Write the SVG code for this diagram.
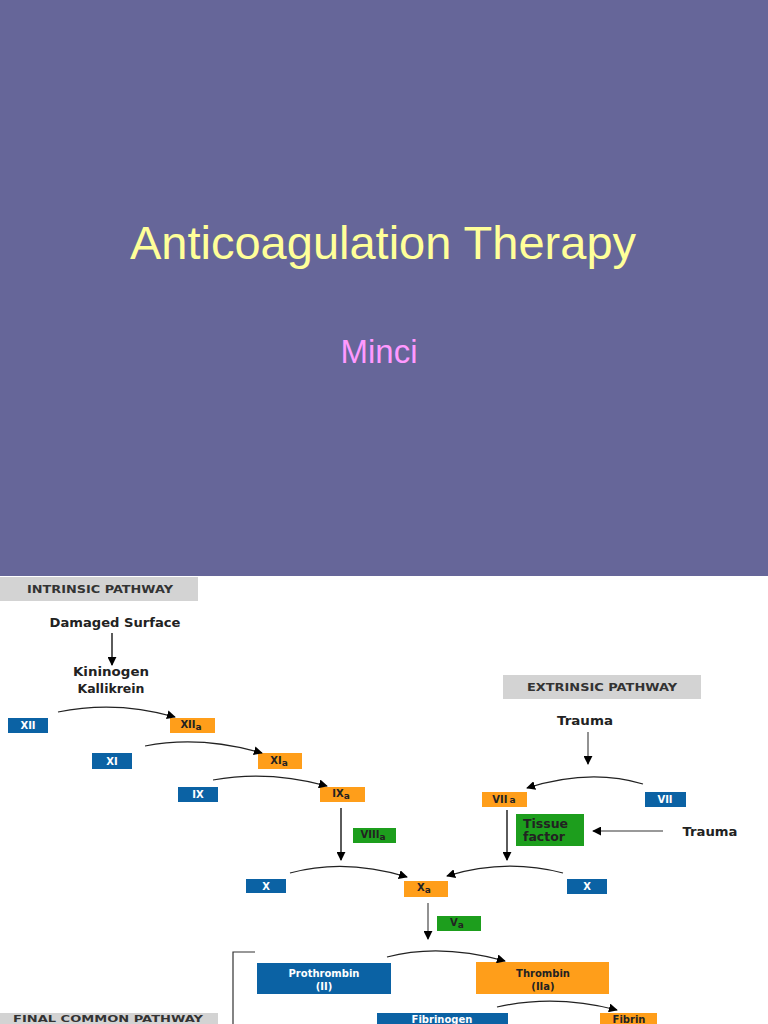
<svg xmlns="http://www.w3.org/2000/svg" width="768" height="1024" viewBox="0 0 768 1024">
<defs>
<marker id="ah" viewBox="0 0 10 10" refX="9" refY="5" markerWidth="9" markerHeight="9" markerUnits="userSpaceOnUse" orient="auto">
<path d="M0,0 L10,5 L0,10 Z" fill="#000"/>
</marker>
<style>
.lbl{font-family:"DejaVu Sans","Liberation Sans",sans-serif;font-weight:bold;text-anchor:middle}
.hdr{font-family:"DejaVu Sans","Liberation Sans",sans-serif;font-size:11px;font-weight:600;fill:#333;text-anchor:middle}
.txt{font-family:"DejaVu Sans","Liberation Sans",sans-serif;font-size:12px;font-weight:600;fill:#222;text-anchor:middle}
.blue{fill:#0b62a4}
.orng{fill:#ff9e1a}
.grn{fill:#1d9e1d}
.gray{fill:#d3d3d3}
.w{fill:#fff;font-size:10px}
.d{fill:#222;font-size:10px}
.arc{fill:none;stroke:#222;stroke-width:1.2;marker-end:url(#ah)}
.vline{fill:none;stroke:#333;stroke-width:1.6;marker-end:url(#ah)}
.gline{fill:none;stroke:#777;stroke-width:1.6;marker-end:url(#ah)}
</style>
</defs>
<rect x="0" y="0" width="768" height="576" fill="#666699"/>
<rect x="0" y="576" width="768" height="448" fill="#fff"/>
<g id="title">
<text x="383" y="259" font-family="Liberation Sans, Arial, sans-serif" font-size="47" fill="#ffff99" text-anchor="middle">Anticoagulation Therapy</text>
</g>
<g id="author">
<text x="379" y="363" font-family="Liberation Sans, Arial, sans-serif" font-size="33" fill="#ff99ff" text-anchor="middle">Minci</text>
</g>

<g id="intrinsic-header"><rect class="gray" x="0" y="577" width="198" height="24"/><text class="hdr" x="100" y="593" textLength="146" lengthAdjust="spacingAndGlyphs">INTRINSIC PATHWAY</text></g>
<g id="extrinsic-header"><rect class="gray" x="503" y="675" width="198" height="24"/><text class="hdr" x="602" y="691" textLength="150" lengthAdjust="spacingAndGlyphs">EXTRINSIC PATHWAY</text></g>
<g id="final-header"><rect class="gray" x="0" y="1013" width="218" height="14"/><text class="hdr" x="108" y="1022" font-size="9" textLength="190" lengthAdjust="spacingAndGlyphs" style="font-size:9px">FINAL COMMON PATHWAY</text></g>

<g id="damaged"><text class="txt" x="115" y="627" textLength="131" lengthAdjust="spacingAndGlyphs">Damaged Surface</text></g>
<g id="kininogen"><text class="txt" x="111" y="676" textLength="76" lengthAdjust="spacingAndGlyphs">Kininogen</text><text class="txt" x="111" y="693" textLength="67" lengthAdjust="spacingAndGlyphs">Kallikrein</text></g>
<g id="trauma1"><text class="txt" x="585" y="725" textLength="56" lengthAdjust="spacingAndGlyphs">Trauma</text></g>
<g id="trauma2"><text class="txt" x="710" y="836" textLength="55" lengthAdjust="spacingAndGlyphs">Trauma</text></g>

<g id="XII"><rect class="blue" x="8" y="718" width="40" height="15"/><text class="lbl w" x="28" y="729">XII</text></g>
<g id="XIIa"><rect class="orng" x="170" y="718" width="45" height="15"/><text class="lbl d" x="191" y="728">XII<tspan dy="2" font-size="9">a</tspan></text></g>
<g id="XI"><rect class="blue" x="92" y="753" width="40" height="16"/><text class="lbl w" x="112" y="765">XI</text></g>
<g id="XIa"><rect class="orng" x="258" y="753" width="44" height="16"/><text class="lbl d" x="279" y="764">XI<tspan dy="2" font-size="9">a</tspan></text></g>
<g id="IX"><rect class="blue" x="178" y="787" width="40" height="15"/><text class="lbl w" x="198" y="798">IX</text></g>
<g id="IXa"><rect class="orng" x="320" y="787" width="45" height="15"/><text class="lbl d" x="341" y="797">IX<tspan dy="2" font-size="9">a</tspan></text></g>
<g id="VIIIa"><rect class="grn" x="353" y="828" width="43" height="15"/><text class="lbl d" x="373" y="838">VIII<tspan dy="2" font-size="9">a</tspan></text></g>
<g id="X-left"><rect class="blue" x="246" y="879" width="40" height="14"/><text class="lbl w" x="266" y="890">X</text></g>
<g id="Xa"><rect class="orng" x="404" y="881" width="44" height="16"/><text class="lbl d" x="424" y="891">X<tspan dy="2" font-size="9">a</tspan></text></g>
<g id="X-right"><rect class="blue" x="567" y="879" width="40" height="15"/><text class="lbl w" x="587" y="890">X</text></g>
<g id="VIIa"><rect class="orng" x="482" y="792" width="45" height="15"/><text class="lbl d" x="504" y="803">VII<tspan font-size="9" dx="2">a</tspan></text></g>
<g id="VII"><rect class="blue" x="645" y="792" width="41" height="15"/><text class="lbl w" x="665" y="803">VII</text></g>
<g id="tissue-factor"><rect class="grn" x="516" y="814" width="68" height="32"/><text class="lbl d" x="523" y="828" font-size="12.5" style="text-anchor:start;font-size:12.5px">Tissue</text><text class="lbl d" x="523" y="841" style="text-anchor:start;font-size:12.5px">factor</text></g>
<g id="Va"><rect class="grn" x="437" y="916" width="44" height="15"/><text class="lbl d" x="457" y="926">V<tspan dy="2" font-size="9">a</tspan></text></g>
<g id="prothrombin"><rect class="blue" x="257" y="963" width="134" height="31"/><text class="lbl w" x="324" y="977" font-size="12">Prothrombin</text><text class="lbl w" x="324" y="990" font-size="11">(II)</text></g>
<g id="thrombin"><rect class="orng" x="476" y="962" width="133" height="32"/><text class="lbl d" x="543" y="977" font-size="12">Thrombin</text><text class="lbl d" x="543" y="990" font-size="11">(IIa)</text></g>
<g id="fibrinogen"><rect class="blue" x="377" y="1013" width="131" height="14"/><text class="lbl w" x="442" y="1023" font-size="11">Fibrinogen</text></g>
<g id="fibrin"><rect class="orng" x="600" y="1013" width="57" height="14"/><text class="lbl d" x="629" y="1023" font-size="11">Fibrin</text></g>

<g id="connectors">
<path class="vline" d="M112,633 L112,665"/>
<path class="arc" d="M58,712 Q116,700 175,717"/>
<path class="arc" d="M145,746 Q200,735 262,753"/>
<path class="arc" d="M213,780 Q268,770 327,786"/>
<path class="vline" d="M341,808 L341,860"/>
<path class="arc" d="M290,873 Q345,858 407,877"/>
<path class="arc" d="M563,873 Q505,858 447,876"/>
<path class="gline" d="M588,732 L588,764"/>
<path class="arc" d="M643,784 Q590,768 527,788"/>
<path class="gline" d="M663,831 L593,831"/>
<path class="vline" d="M507,810 L507,860"/>
<path class="gline" d="M428,903 L428,939"/>
<path class="arc" d="M387,957 Q440,943 505,961"/>
<path class="arc" d="M497,1007 Q555,994 617,1010"/>
<path d="M255,952 L233,952 L233,1024" fill="none" stroke="#333" stroke-width="1.2"/>
</g>
</svg>
